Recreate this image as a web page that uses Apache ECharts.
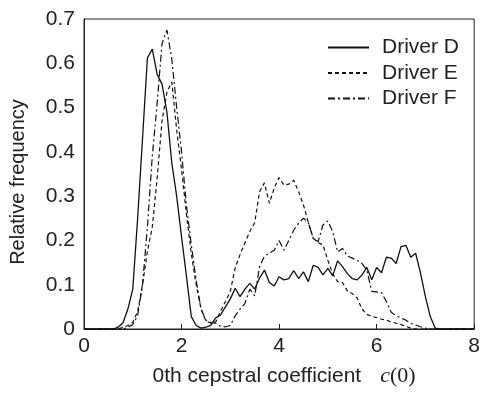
<!DOCTYPE html>
<html>
<head>
<meta charset="utf-8">
<script src="https://cdn.jsdelivr.net/npm/echarts@6/dist/echarts.min.js"></script>
<style>html,body{margin:0;padding:0;background:#fff;}#c{width:483px;height:395px;}</style>
</head>
<body>
<div id="c"></div>
<script>
const xs = [0,0.1,0.2,0.3,0.4,0.5,0.6,0.7,0.8,0.9,1,1.1,1.2,1.3,1.4,1.5,1.6,1.7,1.8,1.9,2,2.1,2.2,2.3,2.4,2.5,2.6,2.7,2.8,2.9,3,3.1,3.2,3.3,3.4,3.5,3.6,3.7,3.8,3.9,4,4.1,4.2,4.3,4.4,4.5,4.6,4.7,4.8,4.9,5,5.1,5.2,5.3,5.4,5.5,5.6,5.7,5.8,5.9,6,6.1,6.2,6.3,6.4,6.5,6.6,6.7,6.8,6.9,7,7.1,7.2,7.3,7.4,7.5,7.6,7.7,7.8,7.9,8];
const driverD = [0,0,0,0,0,0,0,0.004,0.014,0.045,0.09,0.25,0.43,0.612,0.632,0.575,0.553,0.49,0.375,0.30,0.208,0.12,0.028,0.008,0.002,0.004,0.008,0.025,0.032,0.05,0.068,0.092,0.073,0.09,0.103,0.09,0.115,0.133,0.105,0.097,0.118,0.111,0.114,0.132,0.114,0.129,0.107,0.144,0.139,0.122,0.137,0.12,0.154,0.141,0.125,0.114,0.111,0.122,0.139,0.111,0.139,0.127,0.162,0.16,0.148,0.186,0.189,0.162,0.171,0.126,0.073,0.028,0.002,0,0,0,0,0,0,0,0];
const driverE = [0,0,0,0,0,0,0,0,0.004,0.008,0.015,0.04,0.1,0.175,0.23,0.34,0.47,0.535,0.558,0.45,0.36,0.26,0.17,0.1,0.045,0.018,0.013,0.016,0.04,0.062,0.085,0.138,0.168,0.195,0.22,0.24,0.31,0.33,0.284,0.318,0.342,0.325,0.327,0.336,0.31,0.28,0.24,0.205,0.195,0.19,0.155,0.125,0.107,0.105,0.086,0.08,0.07,0.045,0.033,0.028,0.026,0.022,0.02,0.016,0.013,0.01,0.006,0.002,0,0,0,0,0,0,0,0,0,0,0,0,0];
const driverF = [0,0,0,0,0,0,0,0,0,0.004,0.01,0.03,0.1,0.23,0.39,0.51,0.645,0.675,0.61,0.5,0.4,0.28,0.19,0.11,0.045,0.02,0.015,0.013,0.006,0.005,0.008,0.03,0.045,0.058,0.09,0.075,0.14,0.165,0.171,0.178,0.2,0.178,0.2,0.223,0.239,0.25,0.24,0.205,0.197,0.235,0.244,0.22,0.174,0.182,0.165,0.16,0.155,0.148,0.133,0.085,0.084,0.082,0.062,0.038,0.03,0.025,0.02,0.013,0.009,0.005,0.002,0,0,0,0,0,0,0,0,0,0];
const seriesNames = ['Driver D','Driver E','Driver F'];
const xTicks = [0,2,4,6,8];

const FONT = 'Liberation Sans, Arial, sans-serif';
const TXT = '#222';
const FS = 21;
function pairs(v){ return xs.map((x,i)=>[x, v[i]]); }

const chart = echarts.init(document.getElementById('c'));
chart.setOption({
  animation: false,
  backgroundColor: '#fff',
  grid: { left: 83, right: 5, top: 19, bottom: 66, show: true, borderColor: '#222', borderWidth: 1, backgroundColor: 'transparent' },
  legend: {
    orient: 'vertical', left: 322, top: 32, itemWidth: 41, itemHeight: 14, itemGap: 4.5,
    itemStyle: { opacity: 0 },
    data: seriesNames,
    textStyle: { fontFamily: FONT, fontSize: FS, color: TXT, lineHeight: 21, padding: [0,0,0,8] }
  },
  xAxis: {
    type: 'value', min: 0, max: 8, interval: 2,
    name: '{a|0th cepstral coefficient}{s|}{b|c}{c|(0)}', nameLocation: 'middle', nameGap: 36,
    nameTextStyle: { padding: [0,0,0,10], rich: {
      a: { fontFamily: FONT, fontSize: FS, color: TXT },
      s: { width: 19 },
      b: { fontFamily: 'Liberation Serif, DejaVu Serif, serif', fontStyle: 'italic', fontSize: 22, color: TXT },
      c: { fontFamily: 'Liberation Serif, DejaVu Serif, serif', fontSize: 22, color: TXT }
    }},
    axisLine: { lineStyle: { color: '#222', width: 1 } },
    axisTick: { inside: true, length: 5, lineStyle: { color: '#222' } },
    axisLabel: { fontFamily: FONT, fontSize: FS, color: TXT, margin: 7 },
    splitLine: { show: false }
  },
  yAxis: {
    type: 'value', min: 0, max: 0.7, interval: 0.1,
    name: 'Relative frequency', nameLocation: 'middle', nameGap: 56,
    nameTextStyle: { fontFamily: FONT, fontSize: 20, color: TXT, padding: [0,16,0,0] },
    axisLine: { show: true, lineStyle: { color: '#222', width: 1 } },
    axisTick: { show: false },
    axisLabel: { fontFamily: FONT, fontSize: FS, color: TXT, margin: 9 },
    splitLine: { show: false }
  },
  series: [
    { name: seriesNames[0], type: 'line', data: pairs(driverD), symbol: 'none', lineStyle: { color: '#111', width: 1.3, type: 'solid' }, itemStyle: { color: '#111' } },
    { name: seriesNames[1], type: 'line', data: pairs(driverE), symbol: 'none', lineStyle: { color: '#111', width: 1.2, type: [4,3] }, itemStyle: { color: '#111' } },
    { name: seriesNames[2], type: 'line', data: pairs(driverF), symbol: 'none', lineStyle: { color: '#111', width: 1.2, type: [7,3,2,3] }, itemStyle: { color: '#111' } }
  ]
});
</script>
</body>
</html>
